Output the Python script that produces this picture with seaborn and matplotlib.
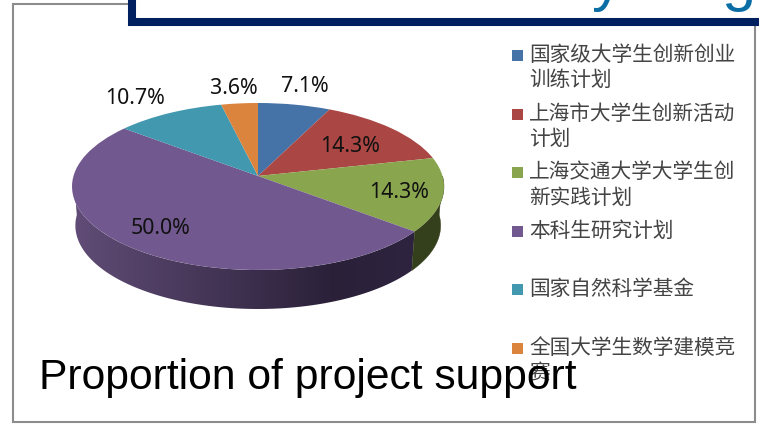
import numpy as np
import matplotlib
matplotlib.use("Agg")
import matplotlib.pyplot as plt
from matplotlib.legend_handler import HandlerPatch
from matplotlib.patches import Patch, Polygon, Rectangle
from matplotlib.colors import LinearSegmentedColormap
from matplotlib.transforms import Transform
import seaborn as sns

# Data
categories = [
    "国家级大学生创新创业\n训练计划",
    "上海市大学生创新活动\n计划",
    "上海交通大学大学生创\n新实践计划",
    "本科生研究计划\n ",
    "国家自然科学基金\n ",
    "全国大学生数学建模竞\n赛",
]
shares = [7.1, 14.3, 14.3, 50.0, 10.7, 3.6]
colors = ["#4572a7", "#aa4643", "#89a54e", "#71588f", "#4198af", "#db843d"]
label_xy = [(281, 86), (320, 147), (369, 192), (131, 229), (105, 98), (210, 88)]
title = "Proportion of project support"

sns.set_theme(style="white")
plt.rcParams["font.family"] = ["Noto Sans CJK SC", "DejaVu Sans"]

# Pie tilt in pixels
CX, CY = 258.0, 176.0
KX, BY, CW = 184.5, -60.05, 0.1257
DEPTH = 39.0


def project(x, y, depth=0.0):
    w = 1 + CW * y
    shrink = 1 - 0.018 * depth / DEPTH
    return CX + shrink * KX * x / w, (CY + BY * y) / w + depth


class Tilt(Transform):
    input_dims = output_dims = 2

    def transform_non_affine(self, values):
        px, py = project(values[:, 0], values[:, 1])
        return np.column_stack([px, py])


def side_outline(theta1, theta2):
    # rim of the top face, then back along the bottom edge
    angles = np.radians(np.linspace(theta1, theta2, 120))
    x, y = np.cos(angles), np.sin(angles)
    tx, ty = project(x, y)
    bx, by = project(x, y, DEPTH)
    return np.column_stack([np.r_[tx, bx[::-1]], np.r_[ty, by[::-1]]])


def flag_handle(legend, orig_handle, xdescent, ydescent, width, height, fontsize):
    # handle sits next to the first line of the label
    return Rectangle((-xdescent, -ydescent + 10), 7.9, 7.9)


fig = plt.figure(figsize=(7.59, 4.26), dpi=100)
ax = fig.add_axes([0, 0, 1, 1])
wedges, _ = ax.pie(shares, colors=colors, startangle=90, counterclock=False, normalize=True)

tilt = Tilt() + ax.transData
for w in wedges:
    w.set_transform(tilt)
    w.set_linewidth(0)
    w.set_zorder(3)

# visible side of the pie, only the front half shows
wall_cmap = LinearSegmentedColormap.from_list(
    "wall", [(0, "#604c76"), (0.77, "#2a2038"), (1, "#2e2440")])
wall = ax.imshow(np.linspace(0, 1, 340)[None, :], extent=(75, 415, 320, 180), cmap=wall_cmap,
                 aspect="auto", zorder=2)
wall_clip = Polygon(side_outline(-180, wedges[3].theta2), transform=ax.transData, fc="none", ec="none")
ax.add_patch(wall_clip)
wall.set_clip_path(wall_clip)
ax.add_patch(Polygon(side_outline(wedges[2].theta1, 0), fc="#343f1c", ec="#343f1c", lw=0.3, zorder=2))

ax.set_aspect("auto")
ax.set_xlim(0, 759)
ax.set_ylim(426, 0)
ax.axis("off")

for share, (lx, ly) in zip(shares, label_xy):
    ax.text(lx, ly, f"{share:.1f}%", fontsize=15.4, family="Noto Sans", color="#111111",
            ha="left", va="center", zorder=5)

# slide frame around the chart
ax.add_patch(Rectangle((13, 4), 742, 417.5, fill=False, ec="#8c8c8c", lw=1.5, zorder=1))
ax.add_patch(Rectangle((128, -10), 640, 36, fc="white", ec="none", zorder=1.5))
ax.plot([132, 132, 759], [0, 22, 22], color="#00205f", lw=5.8, solid_joinstyle="miter", zorder=2)
ax.text(592, -1, "y", fontsize=44, family="Liberation Sans", color="#0a6ea5", zorder=1.6, va="baseline")
ax.text(721, -1, "g", fontsize=44, family="Liberation Sans", color="#0a6ea5", zorder=1.6, va="baseline")

handles = [Patch(facecolor=c, edgecolor="none") for c in colors]
leg = ax.legend(handles, categories, loc="upper left", bbox_to_anchor=(512 / 759, 1 - 44 / 426),
                frameon=False, fontsize=14.9, labelcolor="#444444", handlelength=0.53,
                handleheight=0.53, handletextpad=0.3, borderpad=0, borderaxespad=0,
                labelspacing=0.54,
                handler_map={Patch: HandlerPatch(patch_func=flag_handle)})
leg.set_zorder(4)

ax.text(39, 378, title, fontsize=30.7, family="Liberation Sans", color="black",
        ha="left", va="center", zorder=6)

fig.savefig("out.png", dpi=100)
